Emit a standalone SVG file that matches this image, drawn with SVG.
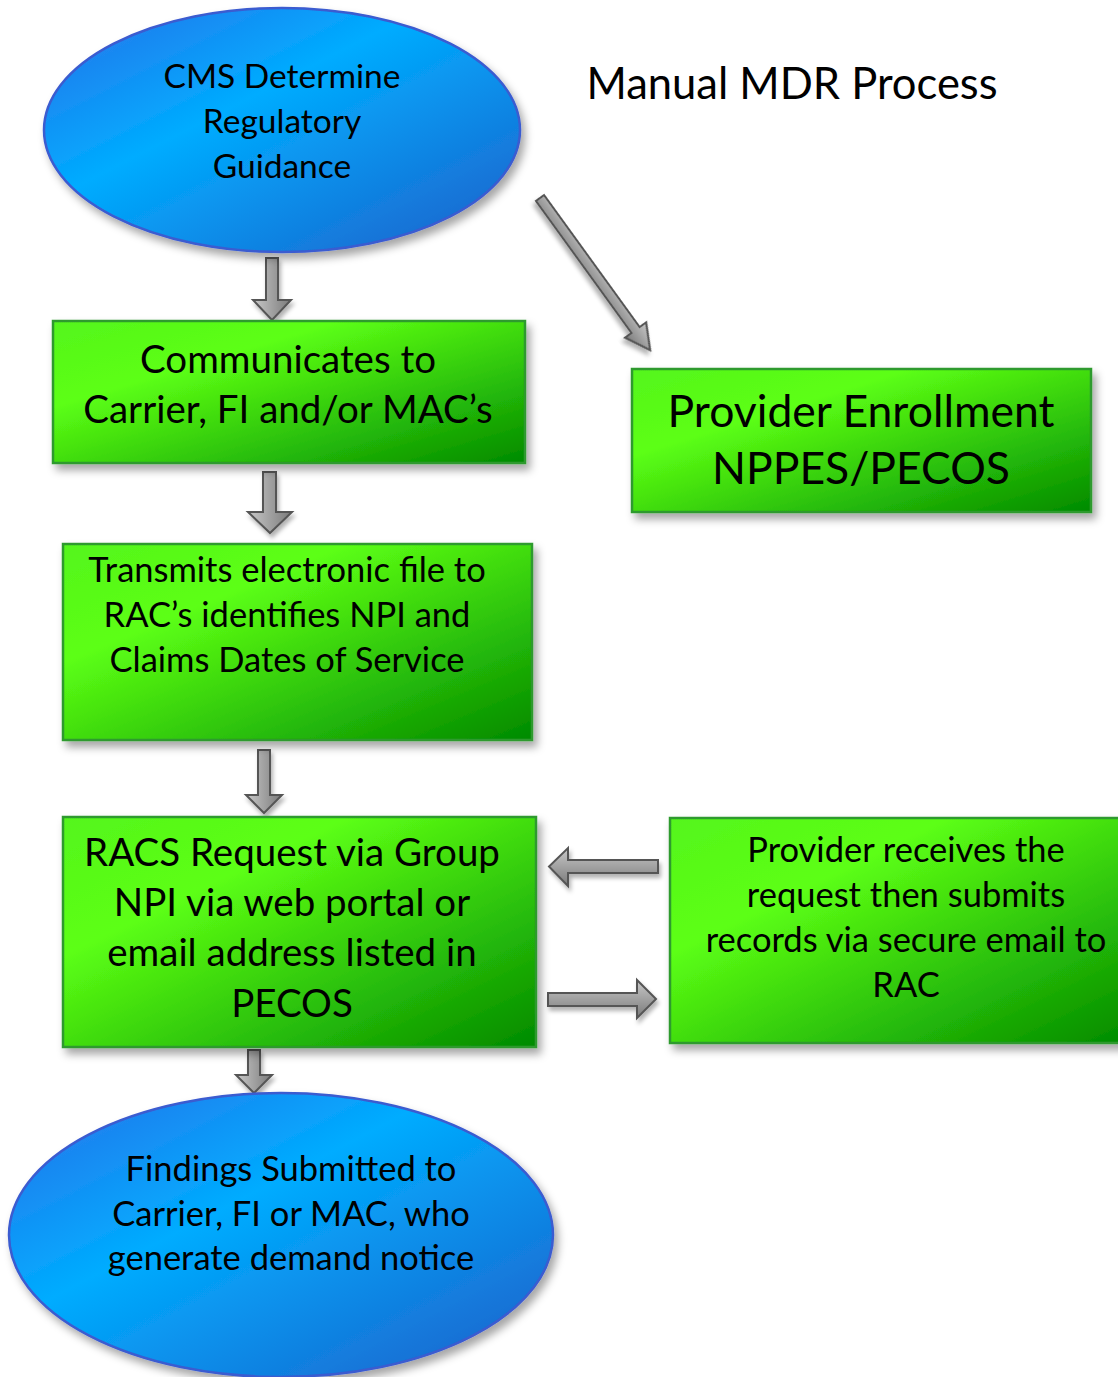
<svg xmlns="http://www.w3.org/2000/svg" width="1118" height="1377" viewBox="0 0 1118 1377">
<defs>
<linearGradient id="gGreen" x1="0" y1="0" x2="1" y2="1">
<stop offset="0" stop-color="#55f51c"/>
<stop offset="0.3" stop-color="#5cff14"/>
<stop offset="1" stop-color="#008a00"/>
</linearGradient>
<linearGradient id="gBlue" x1="0" y1="0" x2="1" y2="1">
<stop offset="0" stop-color="#2a70e8"/>
<stop offset="0.4" stop-color="#00acff"/>
<stop offset="1" stop-color="#1e5ec8"/>
</linearGradient>
<linearGradient id="gGray" x1="0" y1="0" x2="1" y2="0">
<stop offset="0" stop-color="#c8c8c8"/>
<stop offset="1" stop-color="#7a7a7a"/>
</linearGradient>
<linearGradient id="gGrayV" x1="0" y1="0" x2="0" y2="1">
<stop offset="0" stop-color="#c8c8c8"/>
<stop offset="1" stop-color="#7a7a7a"/>
</linearGradient>
<filter id="shadow" x="-10%" y="-10%" width="125%" height="130%">
<feDropShadow dx="4" dy="6" stdDeviation="4" flood-color="#000" flood-opacity="0.35"/>
</filter>
<filter id="ashadow" x="-30%" y="-30%" width="160%" height="160%">
<feDropShadow dx="2" dy="4" stdDeviation="2" flood-color="#000" flood-opacity="0.3"/>
</filter>
</defs>
<style>
.box{fill:url(#gGreen);stroke:#2f9a2f;stroke-width:2.5;filter:url(#shadow)}
.ell{fill:url(#gBlue);stroke:#3b5bd0;stroke-width:2.5;filter:url(#shadow)}
.arr{stroke:#555;stroke-width:2;filter:url(#ashadow)}
text{font-family:Lato,"Open Sans","Liberation Sans",sans-serif;fill:#000;text-anchor:middle}
</style>
<rect width="1118" height="1377" fill="#fff"/>
<text x="792" y="99" font-size="43.5">Manual MDR Process</text>

<g id="connectors">
<path class="arr" fill="url(#gGray)" d="M266,258 H278 V300 H291 L272,320 L253,300 H266 Z"/>
<path class="arr" fill="url(#gGray)" d="M263,472 H276 V512 H292 L270,533 L248,512 H263 Z"/>
<path class="arr" fill="url(#gGray)" d="M258,750 H270 V795 H282 L264,813 L246,795 H258 Z"/>
<path class="arr" fill="url(#gGray)" d="M248,1050 H260 V1075 H272 L254,1093 L236,1075 H248 Z"/>
<path class="arr" fill="url(#gGrayV)" d="M658,860 V873 H568 V886 L549,866.5 L568,848 V860 Z"/>
<path class="arr" fill="url(#gGrayV)" d="M548,993 V1006 H637 V1018 L656,999 L637,980 V993 Z"/>
<g transform="translate(540,198) rotate(54.1)">
<path class="arr" fill="url(#gGrayV)" d="M0,-5 H163 V-13 L188,0 L163,13 V5 H0 Z"/>
</g>
</g>

<g id="node-cms">
<ellipse class="ell" cx="282" cy="130" rx="238" ry="122"/>
<text font-size="33.5"><tspan x="282" y="88">CMS Determine</tspan><tspan x="282" y="133">Regulatory</tspan><tspan x="282" y="178">Guidance</tspan></text>
</g>

<g id="node-communicates">
<rect class="box" x="53" y="321" width="472" height="142"/>
<text font-size="38.5"><tspan x="288" y="373">Communicates to</tspan><tspan x="288" y="423">Carrier, FI and/or MAC’s</tspan></text>
</g>

<g id="node-enrollment">
<rect class="box" x="632" y="369" width="459" height="143"/>
<text font-size="44.5"><tspan x="861" y="427">Provider Enrollment</tspan><tspan x="861" y="484">NPPES/PECOS</tspan></text>
</g>

<g id="node-transmits">
<rect class="box" x="63" y="544" width="469" height="196"/>
<text font-size="34.5"><tspan x="287" y="582">Transmits electronic file to</tspan><tspan x="287" y="627">RAC’s identifies NPI and</tspan><tspan x="287" y="672">Claims Dates of Service</tspan></text>
</g>

<g id="node-racs">
<rect class="box" x="63" y="817" width="473" height="230"/>
<text font-size="38.5"><tspan x="292" y="866">RACS Request via Group</tspan><tspan x="292" y="916">NPI via web portal or</tspan><tspan x="292" y="966">email address listed in</tspan><tspan x="292" y="1017">PECOS</tspan></text>
</g>

<g id="node-provider">
<rect class="box" x="670" y="818" width="460" height="225"/>
<text font-size="34.5"><tspan x="906" y="862">Provider receives the</tspan><tspan x="906" y="907">request then submits</tspan><tspan x="906" y="952">records via secure email to</tspan><tspan x="906" y="997">RAC</tspan></text>
</g>

<g id="node-findings">
<ellipse class="ell" cx="281" cy="1235" rx="272" ry="142"/>
<text font-size="34.5"><tspan x="291" y="1181">Findings Submitted to</tspan><tspan x="291" y="1226">Carrier, FI or MAC, who</tspan><tspan x="291" y="1270">generate demand notice</tspan></text>
</g>
</svg>
